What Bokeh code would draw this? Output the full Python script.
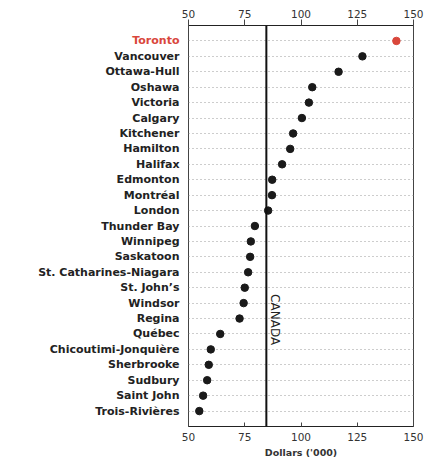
import math
from bokeh.plotting import figure
from bokeh.layouts import row
from bokeh.models import (ColumnDataSource, FactorRange, Range1d, LinearAxis,
                          FixedTicker, Span)
from bokeh.core.properties import value
from bokeh.embed import file_html
from bokeh.resources import INLINE

cities = ["Toronto", "Vancouver", "Ottawa-Hull", "Oshawa", "Victoria", "Calgary",
          "Kitchener", "Hamilton", "Halifax", "Edmonton", "Montréal", "London",
          "Thunder Bay", "Winnipeg", "Saskatoon", "St. Catharines-Niagara",
          "St. John’s", "Windsor", "Regina", "Québec", "Chicoutimi-Jonquière",
          "Sherbrooke", "Sudbury", "Saint John", "Trois-Rivières"]
dollars = [142.4, 127.3, 116.7, 105.0, 103.5, 100.4, 96.5, 95.2, 91.6, 87.2,
           87.1, 85.4, 79.5, 77.7, 77.4, 76.5, 75.0, 74.5, 72.7, 64.1, 59.9,
           59.0, 58.3, 56.5, 54.8]
highlight = "Toronto"
canada_avg = 84.6
x_ticks = [50, 75, 100, 125, 150]
x_label = "Dollars ('000)"

RED = "#d9473b"
DARK = "#1a1a1a"
FONT = "DejaVu Sans"
TOP, BOTTOM = 25, 38

colors = [RED if c == highlight else DARK for c in cities]
label_colors = [RED if c == highlight else "#222222" for c in cities]
n = len(cities)
src = ColumnDataSource(dict(city=cities, val=dollars, color=colors,
                            lcolor=label_colors, lx=[1] * n))

y_range = FactorRange(factors=list(reversed(cities)), range_padding=0.04)

# ---- label column -------------------------------------------------------
lab = figure(width=180, height=464, output_backend="svg", toolbar_location=None,
             x_range=Range1d(0, 1), y_range=y_range,
             x_axis_location=None, y_axis_location=None)
lab.min_border_left = 0
lab.min_border_right = 0
lab.min_border_top = TOP
lab.min_border_bottom = BOTTOM
lab.grid.visible = False
lab.outline_line_color = None
lab.text(x="lx", y="city", text="city", source=src, x_offset=-1,
         text_align="right", text_baseline="middle",
         text_font=value(FONT), text_font_size="11px", text_font_style="bold",
         text_color="lcolor")

# ---- dot plot -----------------------------------------------------------
p = figure(width=267, height=464, output_backend="svg", toolbar_location=None,
           x_range=Range1d(x_ticks[0], x_ticks[-1]), y_range=y_range,
           x_axis_location=None, y_axis_location=None)
p.min_border_left = 8
p.min_border_right = 34
p.min_border_top = TOP
p.min_border_bottom = BOTTOM
p.xgrid.visible = False
p.ygrid.grid_line_color = "#9a9a9a"
p.ygrid.grid_line_dash = "1 3"
p.ygrid.grid_line_width = 1
p.outline_line_color = "#444444"
p.outline_line_width = 1

top = LinearAxis(ticker=FixedTicker(ticks=x_ticks))
top.major_tick_out = 6
top.major_tick_in = 0
top.minor_tick_line_color = None
top.major_label_standoff = 2
top.major_label_text_font = FONT
top.major_label_text_font_size = "10.5px"
top.major_label_text_color = "#333333"
top.axis_line_color = "#222222"
top.major_tick_line_color = "#444444"
p.add_layout(top, "above")

bot = LinearAxis(ticker=FixedTicker(ticks=x_ticks), axis_label=x_label)
bot.major_tick_out = 0
bot.major_tick_in = 4
bot.minor_tick_line_color = None
bot.major_label_standoff = 6
bot.major_label_text_font = FONT
bot.major_label_text_font_size = "10.5px"
bot.major_label_text_color = "#333333"
bot.axis_label_text_font = FONT
bot.axis_label_text_font_size = "9.5px"
bot.axis_label_text_font_style = "bold"
bot.axis_label_text_color = "#333333"
bot.axis_label_standoff = 3
bot.axis_line_color = "#222222"
bot.major_tick_line_color = "#444444"
p.add_layout(bot, "below")

p.add_layout(Span(location=canada_avg, dimension="height",
                  line_color="#111111", line_width=2))

p.scatter("val", "city", source=src, size=7.5, fill_color="color",
          line_color="color")

canada_src = ColumnDataSource(dict(x=[canada_avg], y=["Windsor"], t=["CANADA"]))
p.text(x="x", y="y", text="t", source=canada_src, angle=-math.pi / 2,
       x_offset=9, y_offset=-9, text_align="left", text_baseline="middle",
       text_font=value(FONT), text_font_size="12px", text_color="#222222")

layout = row(lab, p)
open("out.html", "w").write(file_html(layout, INLINE))
